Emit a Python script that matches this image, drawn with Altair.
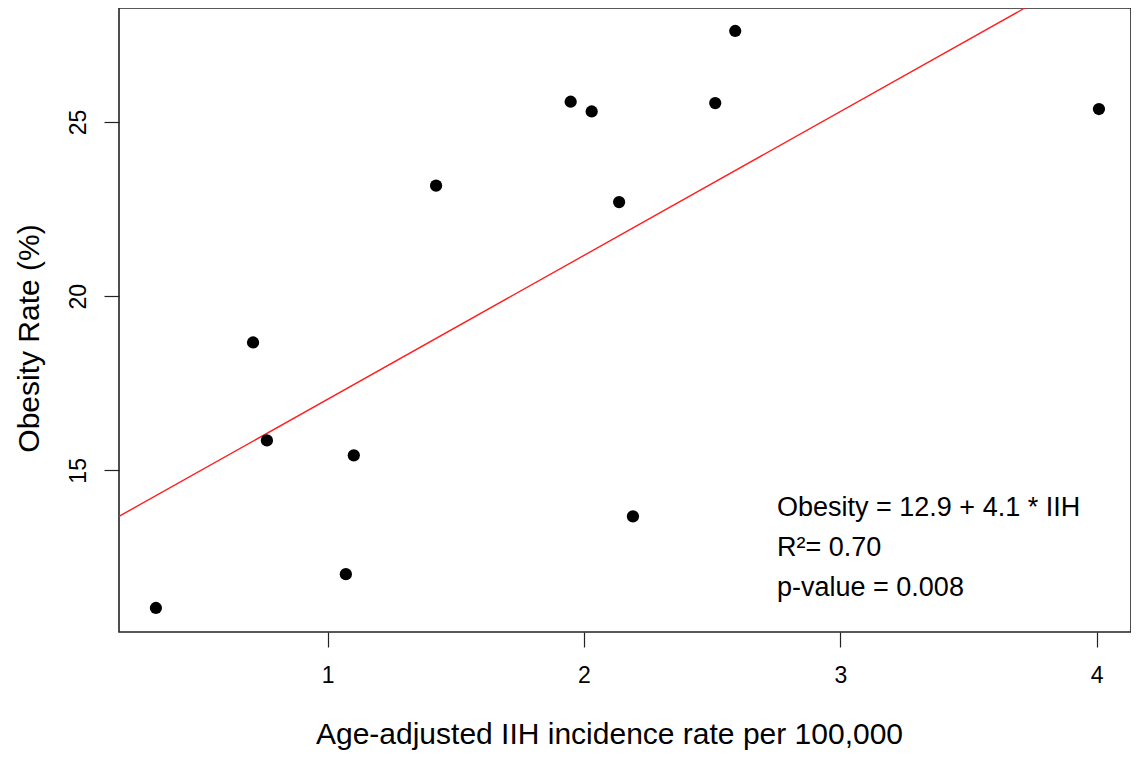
import altair as alt
import pandas as pd

# IIH incidence (x) and obesity rate (y)
iih = [0.330, 0.709, 0.763, 1.071, 1.102, 1.423, 1.948, 2.030, 2.137, 2.191, 2.512, 2.590, 4.009]
obesity = [11.05, 18.67, 15.86, 12.02, 15.43, 23.17, 25.58, 25.30, 22.70, 13.68, 25.54, 27.61, 25.37]

# fitted line endpoints (as drawn, clipped to plot region)
fit_x = [0.186, 3.72]
fit_y = [13.68, 28.27]

# annotation lines
note_text = ["Obesity = 12.9 + 4.1 * IIH", "R\u00b2= 0.70", "p-value = 0.008"]
note_x = [2.753, 2.753, 2.753]
note_y = [13.68, 12.54, 11.39]

x_domain = [0.186, 4.134]
y_domain = [10.36, 28.27]
x_ticks = [1, 2, 3, 4]
y_ticks = [15, 20, 25]

pts = pd.DataFrame({"x": iih, "y": obesity})
fit = pd.DataFrame({"x": fit_x, "y": fit_y})
notes = pd.DataFrame({"x": note_x, "y": note_y, "t": note_text})

FONT = "Liberation Sans"

xs = alt.Scale(domain=x_domain, nice=False, zero=False)
ys = alt.Scale(domain=y_domain, nice=False, zero=False)

xaxis = alt.Axis(
    title="Age-adjusted IIH incidence rate per 100,000",
    values=x_ticks, format="d", tickSize=15, tickColor="#222222", tickWidth=1.2,
    labelFontSize=23, labelPadding=17, labelColor="black", labelFont=FONT,
    titleFontSize=30, titleFontWeight="normal", titleColor="black", titleFont=FONT,
    titleX=490, titleY=111, titleBaseline="alphabetic", titleAlign="center",
    domain=False, grid=False,
)
yaxis = alt.Axis(
    title="Obesity Rate (%)",
    values=y_ticks, format="d", tickSize=15, tickColor="#222222", tickWidth=1.2,
    labelFontSize=23, labelPadding=19, labelColor="black", labelFont=FONT,
    labelAngle=270, labelAlign="center", labelBaseline="alphabetic",
    titleFontSize=30, titleFontWeight="normal", titleColor="black", titleFont=FONT,
    titleAngle=270, titleX=-81, titleY=330, titleBaseline="alphabetic", titleAlign="center",
    domain=False, grid=False,
)

points = alt.Chart(pts).mark_circle(size=150, color="black", opacity=1).encode(
    x=alt.X("x:Q", scale=xs, axis=xaxis),
    y=alt.Y("y:Q", scale=ys, axis=yaxis),
)

line = alt.Chart(fit).mark_line(color="#ff2020", strokeWidth=1.4, clip=True).encode(
    x=alt.X("x:Q", scale=xs),
    y=alt.Y("y:Q", scale=ys),
)

text = alt.Chart(notes).mark_text(
    align="left", baseline="alphabetic", fontSize=27, font=FONT, color="black"
).encode(
    x=alt.X("x:Q", scale=xs),
    y=alt.Y("y:Q", scale=ys),
    text="t:N",
)

chart = (
    alt.layer(line, points, text)
    .properties(
        width=1012,
        height=624,
        autosize=alt.AutoSizeParams(type="none"),
        padding={"left": 111, "top": 0, "right": 0, "bottom": 120},
        background="white",
    )
    .configure_view(stroke="#222222", strokeWidth=1.6)
)

chart.save("out.html", embed_options={"renderer": "svg", "actions": False})
